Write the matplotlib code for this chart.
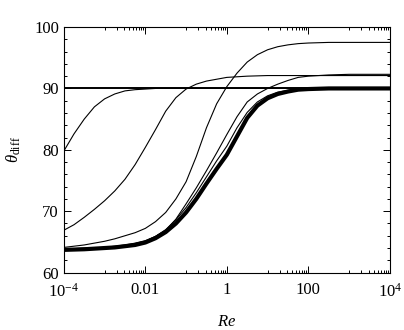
import matplotlib
matplotlib.use("Agg")
import matplotlib.pyplot as plt
import matplotlib.ticker as mticker

plt.rcParams["font.family"] = ["Liberation Serif", "DejaVu Serif"]
plt.rcParams["mathtext.fontset"] = "custom"
plt.rcParams["mathtext.rm"] = "Liberation Serif"
plt.rcParams["mathtext.it"] = "Liberation Serif:italic"

log_re = [-4.0, -3.75, -3.5, -3.25, -3.0, -2.75, -2.5, -2.25, -2.0, -1.75, -1.5,
          -1.25, -1.0, -0.75, -0.5, -0.25, 0.0, 0.25, 0.5, 0.75, 1.0, 1.25,
          1.5, 1.75, 2.0, 2.5, 3.0, 3.5, 4.0]

flat_90 = [90.0] * len(log_re)
curve_a = [79.8, 82.6, 85.0, 87.0, 88.3, 89.1, 89.6, 89.8, 89.9, 90.0, 90.0,
           90.0, 90.0, 90.0, 90.0, 90.0, 90.0, 90.0, 90.0, 90.0, 90.0, 90.0,
           90.0, 90.0, 90.0, 90.0, 90.0, 90.0, 90.0]
curve_b = [66.9, 67.8, 69.0, 70.3, 71.7, 73.3, 75.2, 77.6, 80.4, 83.3, 86.3,
           88.5, 89.9, 90.7, 91.2, 91.5, 91.8, 91.9, 92.0, 92.05, 92.1, 92.1,
           92.1, 92.1, 92.1, 92.1, 92.1, 92.1, 92.1]
curve_c = [64.1, 64.3, 64.5, 64.8, 65.1, 65.5, 66.0, 66.5, 67.2, 68.3, 69.8,
           72.0, 74.8, 78.9, 83.6, 87.5, 90.3, 92.5, 94.3, 95.5, 96.3, 96.8,
           97.1, 97.3, 97.4, 97.5, 97.5, 97.5, 97.5]
curve_d = [63.8, 63.9, 64.0, 64.05, 64.1, 64.3, 64.5, 64.8, 65.2, 65.9, 66.9,
           68.7, 71.2, 73.8, 76.6, 79.5, 82.5, 85.4, 87.8, 89.1, 90.0, 90.7,
           91.3, 91.8, 92.0, 92.2, 92.3, 92.3, 92.3]
curve_d2 = [63.8, 63.85, 63.9, 64.0, 64.1, 64.2, 64.4, 64.7, 65.1, 65.9, 67.0,
            68.6, 70.6, 73.0, 75.6, 78.2, 80.6, 83.6, 86.1, 87.8, 88.8, 89.4,
            89.7, 89.9, 90.0, 90.0, 90.0, 90.0, 90.0]
curve_e = [63.7, 63.75, 63.8, 63.9, 64.0, 64.1, 64.3, 64.5, 64.9, 65.6, 66.6,
           68.0, 69.8, 72.0, 74.5, 76.9, 79.2, 82.2, 85.2, 87.2, 88.4, 89.1,
           89.5, 89.8, 89.9, 90.0, 90.0, 90.0, 90.0]

re = [10.0 ** p for p in log_re]

fig = plt.figure(figsize=(4.04, 3.30), dpi=100)
ax = fig.add_axes([0.158, 0.174, 0.807, 0.744])

ax.plot(re, flat_90, color="black", lw=1.4)
for ys in [curve_a, curve_b, curve_c, curve_d, curve_d2]:
    ax.plot(re, ys, color="black", lw=0.8)
ax.plot(re, curve_e, color="black", lw=3.0)

ax.set_xscale("log")
ax.set_xlim(1e-4, 1e4)
ax.set_ylim(60, 100)

ax.xaxis.set_major_locator(mticker.FixedLocator([1e-4, 1e-2, 1, 1e2, 1e4]))
ax.xaxis.set_major_formatter(mticker.FixedFormatter(
    [r"$10^{-4}$", "0.01", "1", "100", r"$10^{4}$"]))
minor = [m * 10.0 ** k for k in (-3, -1, 1, 3) for m in range(1, 10)]
ax.xaxis.set_minor_locator(mticker.FixedLocator(minor))
ax.xaxis.set_minor_formatter(mticker.NullFormatter())

ax.yaxis.set_major_locator(mticker.MultipleLocator(10))
ax.yaxis.set_minor_locator(mticker.MultipleLocator(2))

ax.tick_params(which="both", direction="in", top=True, right=True,
               labelsize=12, width=0.7)
ax.tick_params(which="major", length=5)
ax.tick_params(axis="x", which="major", pad=7)
ax.tick_params(which="minor", length=2.5)
for s in ax.spines.values():
    s.set_linewidth(0.8)

ax.set_xlabel(r"$Re$", fontsize=12, labelpad=10)
ax.set_ylabel(r"$\theta_{\mathrm{diff}}$", fontsize=12, labelpad=8)

fig.savefig("out.png", dpi=100)
